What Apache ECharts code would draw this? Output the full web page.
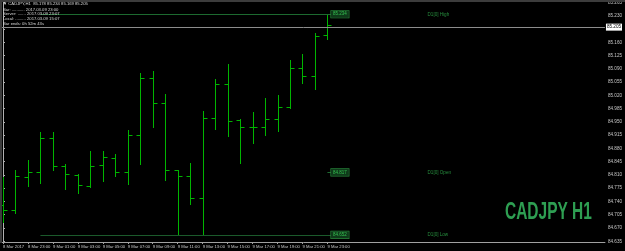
<!DOCTYPE html>
<html><head><meta charset="utf-8">
<script src="https://cdn.jsdelivr.net/npm/echarts@6/dist/echarts.min.js"></script>
<style>html,body{margin:0;padding:0;background:#000;}#c{width:625px;height:251px;}</style>
</head><body><div id="c"></div>
<script>
// ---- data (CADJPY H1, 8 Mar 21:00 .. 9 Mar 23:00) ----
const barTimes = ['8 Mar 21:00','8 Mar 22:00','8 Mar 23:00','9 Mar 00:00','9 Mar 01:00','9 Mar 02:00','9 Mar 03:00','9 Mar 04:00','9 Mar 05:00','9 Mar 06:00','9 Mar 07:00','9 Mar 08:00','9 Mar 09:00','9 Mar 10:00','9 Mar 11:00','9 Mar 12:00','9 Mar 13:00','9 Mar 14:00','9 Mar 15:00','9 Mar 16:00','9 Mar 17:00','9 Mar 18:00','9 Mar 19:00','9 Mar 20:00','9 Mar 21:00','9 Mar 22:00','9 Mar 23:00'];
const openP  = [84.731,84.718,84.805,84.817,84.908,84.834,84.810,84.781,84.835,84.854,84.817,84.915,85.065,84.999,84.823,84.808,84.749,84.961,85.049,84.955,84.937,84.937,84.957,84.990,85.091,85.071,85.178];
const highP  = [84.805,84.823,84.849,84.924,84.924,84.838,84.812,84.874,84.873,84.865,84.929,85.078,85.084,85.023,84.824,84.841,84.979,85.062,85.104,84.957,84.977,85.012,85.021,85.113,85.129,85.184,85.234];
const lowP   = [84.687,84.709,84.782,84.789,84.823,84.774,84.762,84.779,84.795,84.807,84.786,84.838,84.937,84.797,84.652,84.733,84.653,84.930,84.913,84.842,84.893,84.915,84.926,84.986,85.052,85.036,85.169];
const closeP = [84.717,84.807,84.817,84.908,84.834,84.812,84.783,84.834,84.857,84.817,84.915,85.065,84.999,84.823,84.808,84.749,84.959,85.049,84.952,84.937,84.937,84.957,84.988,85.091,85.071,85.177,85.205];
const xTickLabels = ['8 Mar 2017','8 Mar 23:00','9 Mar 01:00','9 Mar 03:00','9 Mar 05:00','9 Mar 07:00','9 Mar 09:00','9 Mar 11:00','9 Mar 13:00','9 Mar 15:00','9 Mar 17:00','9 Mar 19:00','9 Mar 21:00','9 Mar 23:00'];
const yTicks = [84.635,84.670,84.705,84.740,84.775,84.810,84.845,84.880,84.915,84.950,84.985,85.020,85.055,85.090,85.125,85.160,85.195,85.230,85.265];
const d1High = 85.234, d1Open = 84.817, d1Low = 84.652;
const lastPrice = 85.205;
const headerLines = ['\u25BC CADJPY,H1  85.178 85.234 85.169 85.205','Bar: ........... 2017.03.09 23:00','Server: ....... 2017.03.09 23:07','Local: ......... 2017.03.09 15:07','Bar ends: 0h 52m 43s'];

const ohlc = openP.map((o,i)=>[i,o,highP[i],lowP[i],closeP[i]]);
const xTickIdx = xTickLabels.map((_,k)=>k*2);
const GREEN = '#00b400';
const FONT = 'Liberation Sans';

const boxLabel = v => ({show:true, position:'end', formatter:v.toFixed(3), distance:0, color:'#35c050', backgroundColor:'#0f3a1a', borderColor:'#2a8a3c', borderWidth:0.6, padding:[1,2], fontFamily:FONT, fontSize:4.5});

const chart = echarts.init(document.getElementById('c'), null, {renderer:'canvas'});
chart.setOption({
  backgroundColor:'#000',
  animation:false,
  grid:{left:0, width:610, top:2, height:240},
  xAxis:{type:'value', min:-0.095, max:48.24,
    axisLine:{show:true, lineStyle:{color:'#a0a0a0', width:1}},
    axisTick:{show:true, length:2, customValues:xTickIdx, lineStyle:{color:'#a0a0a0'}},
    axisLabel:{show:true, customValues:xTickIdx, hideOverlap:false, showMinLabel:true, showMaxLabel:true, align:'left', margin:3, color:'#c8c8c8', fontFamily:FONT, fontSize:4.2,
      formatter:v=>xTickLabels[Math.round(v/2)]},
    splitLine:{show:false}},
  yAxis:{type:'value', position:'right', min:84.6331, max:85.2661,
    axisLine:{show:true, lineStyle:{color:'#b0b0b0', width:1}},
    axisTick:{show:true, length:2, inside:false, customValues:yTicks, lineStyle:{color:'#b0b0b0'}},
    axisLabel:{show:true, customValues:yTicks, hideOverlap:false, margin:3, color:'#c8c8c8', fontFamily:FONT, fontSize:4.6,
      formatter:v=>v.toFixed(3)},
    splitLine:{show:false}},
  series:[
    {type:'custom', data:ohlc, clip:true, itemStyle:{color:GREEN}, emphasis:{disabled:true},
     renderItem:(params, api)=>{
       const i=api.value(0);
       const pO=api.coord([i,api.value(1)]), pH=api.coord([i,api.value(2)]),
             pL=api.coord([i,api.value(3)]), pC=api.coord([i,api.value(4)]);
       const x=Math.round(pO[0])+0.5;
       const r=v=>Math.round(v)+0.5;
       const st={stroke:GREEN, fill:null, lineWidth:1};
       return {type:'group', children:[
         {type:'line', shape:{x1:x,y1:Math.round(pH[1]),x2:x,y2:Math.round(pL[1])+1}, style:st},
         {type:'line', shape:{x1:x-4,y1:r(pO[1]),x2:x,y2:r(pO[1])}, style:st},
         {type:'line', shape:{x1:x,y1:r(pC[1]),x2:x+4,y2:r(pC[1])}, style:st}
       ]};
     },
     markLine:{silent:true, symbol:'none', animation:false,
       data:[
         [{coord:[3,d1High], lineStyle:{color:'#1d6a30',width:1,type:'solid'}, label:boxLabel(d1High)}, {coord:[26.29,d1High]}],
         [{coord:[26.0,d1Open], lineStyle:{color:'#1d6a30',width:1,type:'solid'}, label:boxLabel(d1Open)}, {coord:[26.29,d1Open]}],
         [{coord:[3,d1Low], lineStyle:{color:'#1b5a2b',width:1,type:'solid'}, label:boxLabel(d1Low)}, {coord:[26.29,d1Low]}],
         {yAxis:lastPrice, lineStyle:{color:'#8c8c8c',width:1,type:'solid'},
          label:{show:true, position:'end', formatter:lastPrice.toFixed(3), distance:1, color:'#000', backgroundColor:'#fff', padding:[1,1], fontFamily:FONT, fontSize:4.6}}
       ]}
    },
    {type:'scatter', symbolSize:1, itemStyle:{color:'rgba(0,0,0,0)'},
     data:[[33.98,d1High,'D1[0] High'],[33.98,d1Open,'D1[0] Open'],[33.98,d1Low,'D1[0] Low']],
     label:{show:true, position:'right', distance:0, color:'#2fae4c', fontFamily:FONT, fontSize:4.6, formatter:p=>p.value[2]}}
  ],
  graphic:[
    {type:'rect', shape:{x:0,y:0,width:625,height:2}, style:{fill:'#3c3c3c'}, z:100},
    {type:'rect', shape:{x:0,y:0,width:2,height:243}, style:{fill:'#3c3c3c'}, z:100},
    ...headerLines.map((t,k)=>({type:'text', x:3, y:[4,9.5,14.2,19,24][k], z:100,
      style:{text:t, fill:'#d8d8d8', fontFamily:FONT, fontSize:4.2, verticalAlign:'middle'}})),
    {type:'text', x:505, y:213, z:50, scaleX:0.86, scaleY:1.3,
     style:{text:'CADJPY H1', fill:'#2e9e52', fontFamily:FONT, fontWeight:'bold', fontSize:18, verticalAlign:'middle'}}
  ]
});
</script></body></html>
